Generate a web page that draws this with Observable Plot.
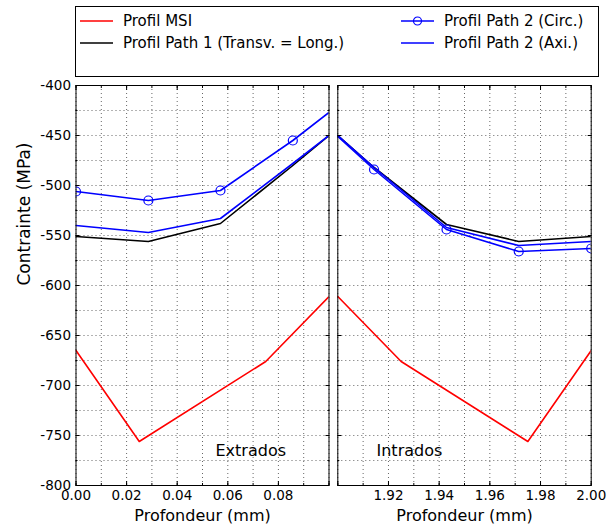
<!DOCTYPE html>
<html>
<head>
<meta charset="utf-8">
<script src="https://cdn.jsdelivr.net/npm/d3@7"></script>
<script src="https://cdn.jsdelivr.net/npm/@observablehq/plot@0.6"></script>
<style>
  html, body { margin: 0; padding: 0; background: #fff; }
  #wrap { position: relative; width: 616px; height: 526px; overflow: hidden; font-family: "DejaVu Sans", sans-serif; background: #fff; }
  .pan { position: absolute; top: 75px; }
  #legend { position: absolute; left: 75px; top: 6px; width: 524px; height: 71px; box-sizing: border-box; border: 1px solid #000; background: #fff; }
  .item { position: absolute; height: 20px; display: flex; align-items: center; font-size: 15px; color: #000; white-space: nowrap; }
  .item svg { margin-right: 10px; }
</style>
</head>
<body>
<div id="wrap"></div>
<script>
// ---- Series (legend) ----
const seriesNames = ["Profil MSI", "Profil Path 1 (Transv. = Long.)", "Profil Path 2 (Circ.)", "Profil Path 2 (Axi.)"];
const seriesColors = ["#ff0000", "#000000", "#0000ff", "#0000ff"];
const seriesMarkers = [false, false, true, false];

// ---- Common y axis (Contrainte, MPa) ----
const yTickValues = [-400, -450, -500, -550, -600, -650, -700, -750, -800];
const yMinorValues = [-425, -475, -525, -575, -625, -675, -725, -775];

// ---- Extrados (left panel, depth 0 - 0.1 mm) ----
const extTickLabels = [0.00, 0.02, 0.04, 0.06, 0.08];
const extMsiX = [0, 0.025, 0.075, 0.1];
const extMsiY = [-665, -756, -676, -611];
const extPathX = [0, 0.0286, 0.0571, 0.0857, 0.1];
const extPath1Y = [-551, -556, -538, -480, -450];
const extCircY = [-506, -515, -505, -455, -427];
const extAxiY  = [-540, -547, -533, -478, -450];
const extMarker = [true, true, true, true, false];

// ---- Intrados (right panel, depth 1.9 - 2.0 mm) ----
const intTickLabels = [1.92, 1.94, 1.96, 1.98, 2.00];
const intMsiX = [1.9, 1.925, 1.975, 2.0];
const intMsiY = [-611, -676, -756, -665];
const intPathX = [1.9, 1.9143, 1.9429, 1.9714, 2.0];
const intPath1Y = [-450, -482, -539, -556, -551];
const intCircY  = [-451, -484, -544, -566, -563];
const intAxiY   = [-450, -482, -542, -560, -556];
const intMarker = [false, true, true, true, true];

const wrap = document.getElementById("wrap");

function panel(o) {
  const pts = (xs, ys, ms) => xs.map((x, i) => ({x, y: ys[i], m: ms ? ms[i] : false}));
  const msi = pts(o.msiX, o.msiY);
  const p1 = pts(o.pathX, o.path1Y);
  const circ = pts(o.pathX, o.circY, o.marker);
  const axi = pts(o.pathX, o.axiY);
  const [x0, x1] = o.domain;
  const minorX = d3.range(0, 11).map(i => +(x0 + i * (x1 - x0) / 10).toFixed(4));
  const majorX = minorX.filter((d, i) => i % 2 === 0);
  const allY = yTickValues.concat(yMinorValues);
  const lineOpts = (c) => ({x: "x", y: "y", stroke: c, strokeWidth: 1.6, clip: true});
  const marks = [
    Plot.gridX(minorX, {stroke: "#000", strokeOpacity: 0.6, strokeDasharray: "1,3", strokeWidth: 1}),
    Plot.gridY(allY, {stroke: "#000", strokeOpacity: 0.6, strokeDasharray: "1,3", strokeWidth: 1}),
    Plot.line(msi, lineOpts(seriesColors[0])),
    Plot.line(p1, lineOpts(seriesColors[1])),
    Plot.line(circ, lineOpts(seriesColors[2])),
    Plot.dot(circ.filter(d => d.m), {x: "x", y: "y", r: 4.5, stroke: seriesColors[2], fill: "none", strokeWidth: 1.2, clip: true}),
    Plot.line(axi, lineOpts(seriesColors[3])),
    Plot.frame({stroke: "#000", strokeWidth: 1}),
    // inward tick marks on all four sides
    Plot.axisX(majorX, {anchor: "bottom", tickSize: -4, fill: "none", label: null}),
    Plot.axisX(minorX, {anchor: "bottom", tickSize: -2, fill: "none", label: null}),
    Plot.axisX(majorX, {anchor: "top", tickSize: -4, fill: "none", label: null}),
    Plot.axisX(minorX, {anchor: "top", tickSize: -2, fill: "none", label: null}),
    Plot.axisY(yTickValues, {anchor: "left", tickSize: -4, fill: "none", label: null}),
    Plot.axisY(yMinorValues, {anchor: "left", tickSize: -2, fill: "none", label: null}),
    Plot.axisY(yTickValues, {anchor: "right", tickSize: -4, fill: "none", label: null}),
    Plot.axisY(yMinorValues, {anchor: "right", tickSize: -2, fill: "none", label: null}),
    // tick labels
    Plot.axisX(o.tickLabels, {anchor: "bottom", tickSize: 0, tickPadding: 5, tickFormat: d3.format(".2f"), label: null, fontSize: 13.5}),
    Plot.text(["Profondeur (mm)"], {frameAnchor: "bottom", dy: 35, lineAnchor: "bottom", fontSize: 16}),
    Plot.text([o.name], {frameAnchor: "bottom-left", dx: o.nameDx, dy: -35, textAnchor: "start", lineAnchor: "middle", fontSize: 16})
  ];
  if (o.showY) {
    marks.push(Plot.axisY(yTickValues, {anchor: "left", tickSize: 0, tickPadding: 5, tickFormat: d => String(d), label: null, fontSize: 13.5}));
    marks.push(Plot.text(["Contrainte (MPa)"], {frameAnchor: "left", dx: -51, rotate: -90, lineAnchor: "middle", fontSize: 17}));
  }
  const svg = Plot.plot({
    width: o.width, height: 451,
    marginTop: 10, marginBottom: 41, marginLeft: o.mL, marginRight: o.mR,
    x: {domain: o.domain},
    y: {domain: [-800, -400]},
    style: {fontFamily: "'DejaVu Sans', sans-serif", fontSize: "13px", color: "#000", background: "transparent", overflow: "visible"},
    marks
  });
  const div = document.createElement("div");
  div.className = "pan";
  div.style.left = o.left + "px";
  div.appendChild(svg);
  wrap.appendChild(div);
}

panel({left: 0, width: 333, mL: 75.5, mR: 4.5, domain: [0, 0.1], showY: true,
  tickLabels: extTickLabels, msiX: extMsiX, msiY: extMsiY, pathX: extPathX,
  path1Y: extPath1Y, circY: extCircY, axiY: extAxiY, marker: extMarker, name: "Extrados", nameDx: 139.5});
panel({left: 333, width: 283, mL: 4.3, mR: 25.3, domain: [1.9, 2.0], showY: false,
  tickLabels: intTickLabels, msiX: intMsiX, msiY: intMsiY, pathX: intPathX,
  path1Y: intPath1Y, circY: intCircY, axiY: intAxiY, marker: intMarker, name: "Intrados", nameDx: 38.7});

// ---- Legend ----
const legend = document.createElement("div");
legend.id = "legend";
const slots = [[4, 4], [4, 26], [325, 4], [325, 26]];
seriesNames.forEach((name, i) => {
  const it = document.createElement("div");
  it.className = "item";
  it.style.left = slots[i][0] + "px";
  it.style.top = slots[i][1] + "px";
  const ns = "http://www.w3.org/2000/svg";
  const s = document.createElementNS(ns, "svg");
  s.setAttribute("width", 33); s.setAttribute("height", 12);
  const l = document.createElementNS(ns, "line");
  l.setAttribute("x1", 0); l.setAttribute("x2", 33); l.setAttribute("y1", 6); l.setAttribute("y2", 6);
  l.setAttribute("stroke", seriesColors[i]); l.setAttribute("stroke-width", 1.6);
  s.appendChild(l);
  if (seriesMarkers[i]) {
    const c = document.createElementNS(ns, "circle");
    c.setAttribute("cx", 16.5); c.setAttribute("cy", 6); c.setAttribute("r", 4);
    c.setAttribute("fill", "none"); c.setAttribute("stroke", seriesColors[i]); c.setAttribute("stroke-width", 1.2);
    s.appendChild(c);
  }
  it.appendChild(s);
  const t = document.createElement("span");
  t.textContent = name;
  it.appendChild(t);
  legend.appendChild(it);
});
wrap.appendChild(legend);
</script>
</body>
</html>
